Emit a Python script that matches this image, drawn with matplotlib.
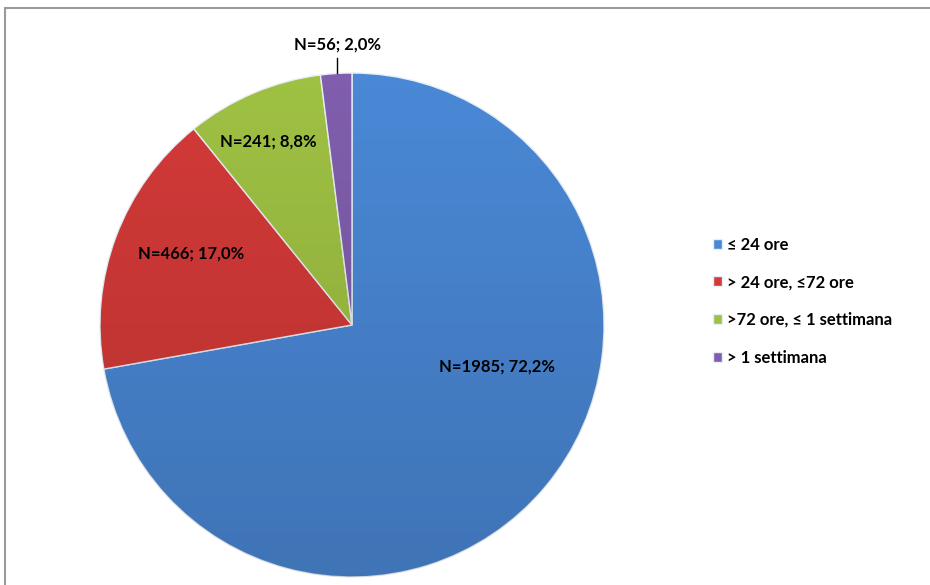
import matplotlib
matplotlib.use("Agg")
import matplotlib.pyplot as plt
import numpy as np
from matplotlib.patches import Rectangle, Circle

categories = ["≤ 24 ore", "> 24 ore, ≤72 ore", ">72 ore, ≤ 1 settimana", "> 1 settimana"]
counts = [1985, 466, 241, 56]
percents = [72.2, 17.0, 8.8, 2.0]
colors = ["#4a88d6", "#d33a38", "#9fc143", "#805ead"]

plt.rcParams["font.family"] = ["Lato", "DejaVu Sans"]

W, H = 930, 585
fig = plt.figure(figsize=(W / 100, H / 100), dpi=100)
ax = fig.add_axes([0, 0, 1, 1])

cx, cy, r = 352, H - 325, 252
wedges, _ = ax.pie(percents, colors=colors, startangle=90, counterclock=False,
                   center=(cx, cy), radius=r, frame=True,
                   wedgeprops=dict(edgecolor="#e8eef5", linewidth=1.0))
ax.set_xlim(0, W)
ax.set_ylim(0, H)
ax.set_aspect("equal")
ax.axis("off")

# soft vertical shading over the pie: darker towards the bottom
grad = np.linspace(0, 1, 256).reshape(-1, 1)
shade = np.zeros((256, 1, 4))
shade[..., 3] = 0.15 * grad
img = ax.imshow(shade, extent=(cx - r, cx + r, cy - r, cy + r), origin="upper",
                aspect="auto", zorder=3)
img.set_clip_path(Circle((cx, cy), r, transform=ax.transData))
ax.set_xlim(0, W)
ax.set_ylim(0, H)

# chart frame
ax.add_patch(Rectangle((5, -5), W + 10, H - 8 + 5, fill=False, edgecolor="#9a9a9a", lw=1.5))

labels = [f"N={n}; {p:.1f}%".replace(".", ",") for n, p in zip(counts, percents)]
label_pos = [(497, H - 367), (191, H - 254), (268, H - 142), (337, H - 45)]
for txt, (x, y) in zip(labels, label_pos):
    ax.text(x, y, txt, ha="center", va="center", fontsize=12, fontweight="bold",
            color="black", zorder=5)

# leader line for the smallest slice
ax.plot([337, 337], [H - 58, H - 73], color="black", lw=1, zorder=5)

leg = ax.legend(wedges, categories, loc="upper left", bbox_to_anchor=(706 / W, 1 - 230 / H),
                frameon=False, fontsize=12, handlelength=0.55, handleheight=0.55,
                handletextpad=0.3, labelspacing=1.3, borderaxespad=0)
for t in leg.get_texts():
    t.set_fontweight("bold")

fig.savefig("out.png", dpi=100, facecolor="white")
